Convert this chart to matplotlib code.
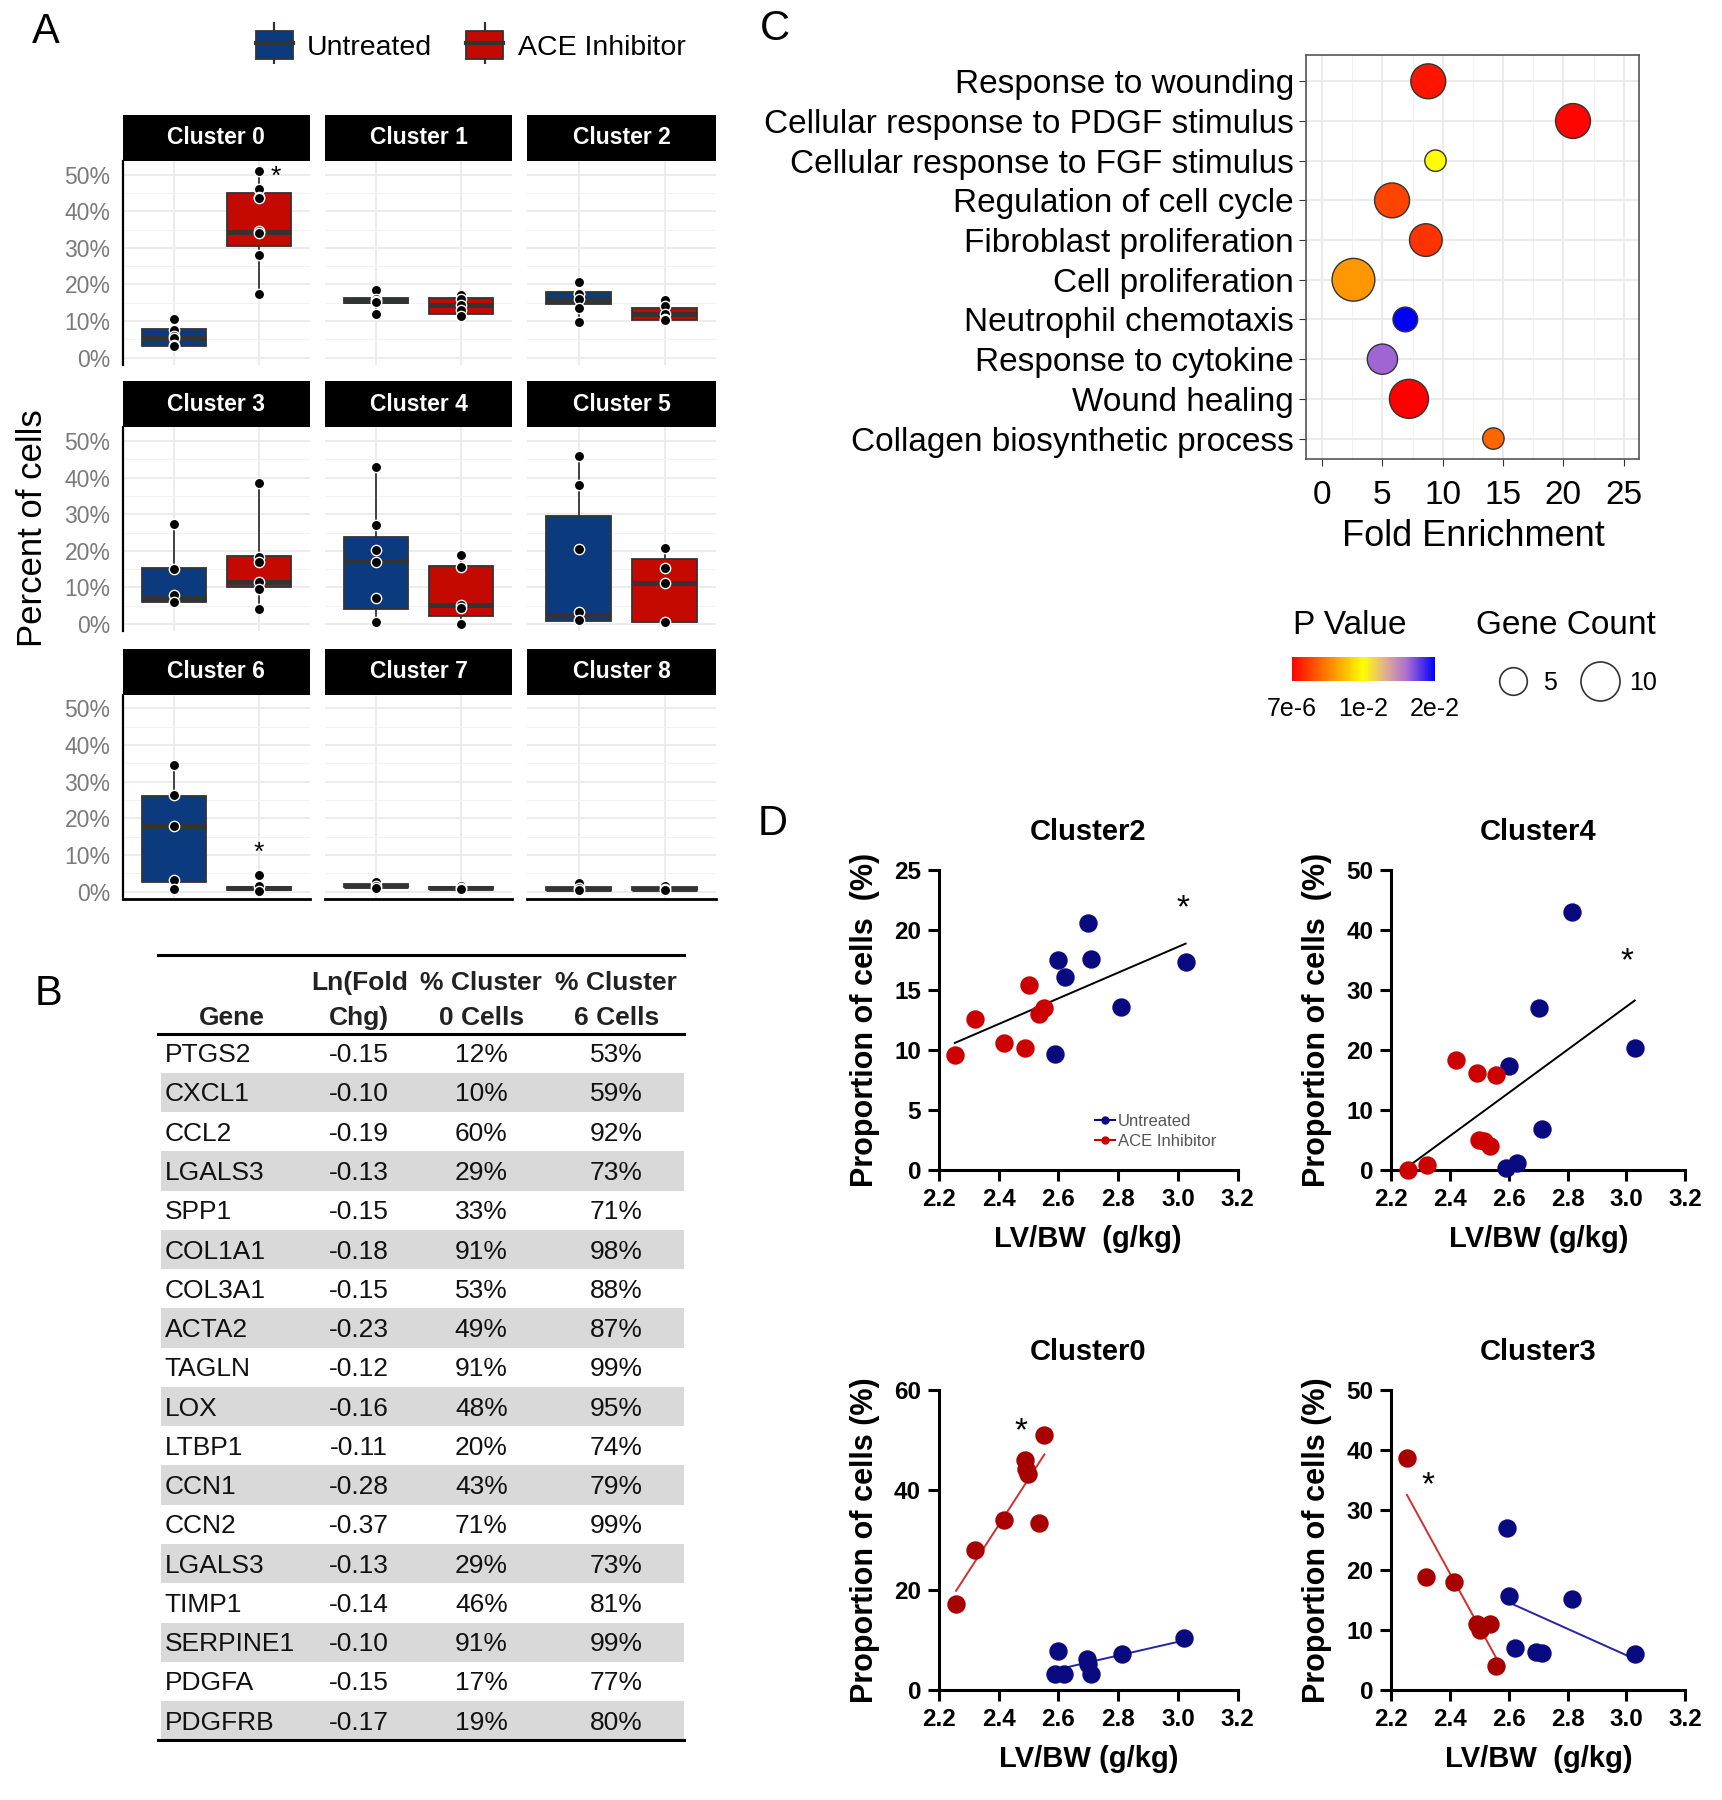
import numpy as np
import matplotlib
matplotlib.use("Agg")
import matplotlib.pyplot as plt
from matplotlib.patches import Rectangle, Patch
from matplotlib.lines import Line2D
from matplotlib.colors import LinearSegmentedColormap, Normalize
from matplotlib.cm import ScalarMappable
from matplotlib.legend_handler import HandlerTuple

plt.rcParams['font.family'] = ['Liberation Sans', 'DejaVu Sans']

# ---------------- panel A: box plots per cluster ----------------
clusters = ["Cluster 0", "Cluster 1", "Cluster 2", "Cluster 3", "Cluster 4",
            "Cluster 5", "Cluster 6", "Cluster 7", "Cluster 8"]
groups = ["Untreated", "ACE Inhibitor"]

# whisker low, q1, median, q3, whisker high (percent)
untr_lo = [2.9, 12.0, 9.7, 5.9, 0.5, 0.6, 0.6, 0.9, 0.4]
untr_q1 = [3.2, 15.0, 14.7, 6.1, 4.1, 0.8, 2.6, 1.2, 0.5]
untr_med = [5.5, 15.6, 15.9, 7.0, 17.3, 2.5, 17.8, 1.6, 0.8]
untr_q3 = [7.9, 16.3, 17.9, 15.2, 23.8, 29.5, 26.1, 2.0, 1.1]
untr_hi = [10.6, 18.5, 20.6, 27.3, 42.9, 46.0, 34.5, 2.5, 2.4]

ace_lo = [17.3, 11.3, 10.4, 4.1, 0.0, 0.2, 0.2, 0.6, 0.4]
ace_q1 = [30.5, 12.0, 10.4, 10.2, 2.2, 0.5, 0.5, 0.7, 0.5]
ace_med = [34.3, 14.5, 12.0, 11.5, 5.2, 11.1, 1.0, 1.0, 0.8]
ace_q3 = [45.0, 16.3, 13.6, 18.5, 15.8, 17.7, 1.3, 1.2, 1.1]
ace_hi = [51.1, 17.0, 15.9, 38.6, 18.8, 20.9, 1.6, 1.4, 1.5]

untr_points = [[10.6, 7.7, 6.0, 5.5, 3.6, 3.3],
               [18.5, 16.0, 15.6, 15.3, 12.0],
               [20.6, 17.6, 17.5, 16.1, 13.6, 9.7],
               [27.3, 14.9, 7.9, 6.0],
               [42.9, 27.0, 20.2, 17.0, 7.0, 0.5],
               [46.0, 37.9, 20.5, 3.4, 1.1],
               [34.5, 26.4, 17.8, 3.2, 0.6],
               [2.5, 1.6, 1.0],
               [2.4, 0.9, 0.5]]
ace_points = [[51.1, 46.0, 44.0, 43.5, 34.5, 34.0, 28.0, 17.3],
              [17.0, 16.0, 14.5, 13.0, 11.3],
              [15.9, 14.0, 12.0, 10.6, 10.3],
              [38.6, 18.4, 17.0, 11.5, 9.7, 4.1],
              [18.8, 15.6, 5.2, 4.3, 0.0],
              [20.9, 15.2, 11.1, 0.5],
              [4.6, 1.6, 0.1],
              [1.4, 1.0, 0.7],
              [1.5, 0.8, 0.5]]
a_star_cluster = [0, 6]
a_star_y = [49.5, 10.5]
a_star_x = [2.2, 2.0]

# ---------------- panel B: table ----------------
genes = ["PTGS2", "CXCL1", "CCL2", "LGALS3", "SPP1", "COL1A1", "COL3A1", "ACTA2",
         "TAGLN", "LOX", "LTBP1", "CCN1", "CCN2", "LGALS3", "TIMP1", "SERPINE1",
         "PDGFA", "PDGFRB"]
ln_fc = ["-0.15", "-0.10", "-0.19", "-0.13", "-0.15", "-0.18", "-0.15", "-0.23",
         "-0.12", "-0.16", "-0.11", "-0.28", "-0.37", "-0.13", "-0.14", "-0.10",
         "-0.15", "-0.17"]
pct_c0 = ["12%", "10%", "60%", "29%", "33%", "91%", "53%", "49%", "91%", "48%",
          "20%", "43%", "71%", "29%", "46%", "91%", "17%", "19%"]
pct_c6 = ["53%", "59%", "92%", "73%", "71%", "98%", "88%", "87%", "99%", "95%",
          "74%", "79%", "99%", "73%", "81%", "99%", "77%", "80%"]
headers = ["Gene", "Ln(Fold\nChg)", "% Cluster\n0 Cells", "% Cluster\n6 Cells"]

# ---------------- panel C: enrichment ----------------
terms = ["Response to wounding", "Cellular response to PDGF stimulus",
         "Cellular response to FGF stimulus", "Regulation of cell cycle",
         "Fibroblast proliferation", "Cell proliferation", "Neutrophil chemotaxis",
         "Response to cytokine", "Wound healing", "Collagen biosynthetic process"]
fold_enrich = [8.8, 20.8, 9.4, 5.8, 8.6, 2.6, 6.9, 5.0, 7.2, 14.2]
gene_count = [8, 8, 3, 8, 7, 12, 4, 6, 10, 3]
p_value = [8e-4, 2e-4, 1e-2, 2.7e-3, 2e-3, 6e-3, 2e-2, 1.64e-2, 7e-6, 4e-3]

# ---------------- panel D: correlations ----------------
c2_untr_x = [2.590, 2.598, 2.623, 2.700, 2.709, 2.811, 3.026]
c2_untr_y = [9.7, 17.5, 16.1, 20.6, 17.6, 13.6, 17.3]
c2_ace_x = [2.253, 2.320, 2.418, 2.487, 2.501, 2.534, 2.553]
c2_ace_y = [9.6, 12.6, 10.6, 10.2, 15.4, 13.0, 13.5]

c4_untr_x = [2.590, 2.600, 2.626, 2.701, 2.712, 2.814, 3.028]
c4_untr_y = [0.3, 17.3, 1.1, 27.0, 6.8, 43.0, 20.3]
c4_ace_x = [2.257, 2.320, 2.420, 2.490, 2.498, 2.514, 2.534, 2.556]
c4_ace_y = [0.0, 0.8, 18.4, 16.1, 5.0, 4.8, 4.0, 15.8]

c0_untr_x = [2.587, 2.600, 2.617, 2.694, 2.700, 2.710, 2.814, 3.020]
c0_untr_y = [3.1, 7.7, 3.1, 6.1, 5.2, 3.1, 7.2, 10.4]
c0_ace_x = [2.257, 2.320, 2.418, 2.487, 2.490, 2.498, 2.534, 2.553]
c0_ace_y = [17.1, 27.9, 34.1, 46.0, 44.3, 43.3, 33.4, 51.0]

c3_untr_x = [2.592, 2.600, 2.620, 2.692, 2.712, 2.814, 3.028]
c3_untr_y = [27.0, 15.6, 7.0, 6.3, 6.1, 15.1, 6.0]
c3_ace_x = [2.253, 2.317, 2.414, 2.490, 2.501, 2.537, 2.556]
c3_ace_y = [38.7, 18.9, 18.0, 10.9, 10.0, 11.0, 4.0]

# ---------------------------------------------------------------
W, H = 1500, 1568  # layout measured on the shrunk reference


def box(x0, y0, x1, y1):
    return [x0 / W, 1 - y1 / H, (x1 - x0) / W, (y1 - y0) / H]


def fpos(x, y):
    return x / W, 1 - y / H


fig = plt.figure(figsize=(17.22, 18.0), dpi=100)

BLUE_BOX = "#0B3A7E"
RED_BOX = "#C40A00"
EDGE = "#333333"

# panel letters
for lab, (x, y) in zip("ABCD", [(40, 28), (42, 866), (675, 25), (673, 718)]):
    fig.text(*fpos(x, y), lab, fontsize=30, ha='center', va='center')

# ---- panel A
col_x = [(107, 270), (283, 446), (459, 624)]
row_y = [(140, 318), (372, 550), (605, 783)]
strip_h = 40
for k, name in enumerate(clusters):
    r, c = divmod(k, 3)
    x0, x1 = col_x[c]
    y0, y1 = row_y[r]
    ax = fig.add_axes(box(x0, y0, x1, y1))
    stats = [
        dict(whislo=untr_lo[k], q1=untr_q1[k], med=untr_med[k], q3=untr_q3[k], whishi=untr_hi[k]),
        dict(whislo=ace_lo[k], q1=ace_q1[k], med=ace_med[k], q3=ace_q3[k], whishi=ace_hi[k]),
    ]
    bp = ax.bxp(stats, positions=[1, 2], widths=0.75, patch_artist=True,
                showfliers=False, showcaps=False,
                boxprops=dict(edgecolor=EDGE, linewidth=1.3),
                medianprops=dict(color=EDGE, linewidth=3.5),
                whiskerprops=dict(color=EDGE, linewidth=1.3))
    bp['boxes'][0].set_facecolor(BLUE_BOX)
    bp['boxes'][1].set_facecolor(RED_BOX)
    for pos, pts in [(1, untr_points[k]), (2, ace_points[k])]:
        ax.scatter([pos] * len(pts), pts, s=55, color='black', edgecolors='white',
                   linewidths=1.0, zorder=4)
    for ci, sy, sx in zip(a_star_cluster, a_star_y, a_star_x):
        if ci == k:
            ax.text(sx, sy, "*", fontsize=19, ha='center', va='center')
    ax.set_xlim(0.4, 2.6)
    ax.set_ylim(-2.0, 53.8)
    ax.set_xticks([1, 2])
    ax.set_xticklabels([])
    ax.set_yticks(range(0, 51, 10))
    ax.set_yticks(range(5, 50, 10), minor=True)
    if c == 0:
        ax.set_yticklabels([f"{v}%" for v in range(0, 51, 10)], fontsize=16.5, color='#7A7A7A')
    else:
        ax.set_yticklabels([])
    ax.tick_params(which='both', length=0, pad=9)
    ax.grid(True, which='major', color='#EBEBEB', linewidth=1.3)
    ax.grid(True, which='minor', axis='y', color='#F2F2F2', linewidth=0.8)
    ax.set_axisbelow(True)
    for s in ax.spines.values():
        s.set_visible(False)
    if c == 0:
        ax.spines['left'].set_visible(True)
        ax.spines['left'].set_linewidth(1.6)
    if r == 2:
        ax.spines['bottom'].set_visible(True)
        ax.spines['bottom'].set_linewidth(2.0)
    hh = strip_h / (y1 - y0)
    ax.add_patch(Rectangle((0, 1), 1, hh, transform=ax.transAxes, facecolor='black',
                           edgecolor='none', clip_on=False))
    ax.text(0.5, 1 + hh / 2, name, transform=ax.transAxes, ha='center', va='center',
            color='white', fontsize=16.5, fontweight='bold')

fig.text(*fpos(28, 460), "Percent of cells", rotation=90, fontsize=25, ha='center', va='center')
leg_handles = []
for fc in [BLUE_BOX, RED_BOX]:
    leg_handles.append((Line2D([], [], ls='', marker='|', markersize=30, markeredgewidth=1.6, color=EDGE),
                        Patch(facecolor=fc, edgecolor=EDGE, linewidth=1.3),
                        Line2D([], [], color=EDGE, lw=3)))
fig.legend(handles=leg_handles, labels=groups, loc='center', bbox_to_anchor=fpos(410, 40), ncol=2,
           frameon=False, fontsize=20.5, handlelength=1.3, handleheight=1.1, handletextpad=0.5,
           columnspacing=1.2, handler_map={tuple: HandlerTuple(ndivide=1)})

# ---- panel B
axb = fig.add_axes(box(138, 832, 596, 1516))
n = len(genes)
axb.set_xlim(0, 1)
axb.set_ylim(n + 2, 0)
axb.axis('off')
for i in range(n):
    if i % 2 == 1:
        axb.add_patch(Rectangle((0.005, 2 + i), 0.995, 1, facecolor='#D9D9D9', edgecolor='none'))
col_cx = [0.14, 0.382, 0.614, 0.871]
for cx, htxt in zip(col_cx, headers):
    lines = htxt.split("\n")
    if len(lines) == 1:
        lines = ["", lines[0]]
    axb.text(cx, 0.7, lines[0], ha='center', va='center', fontsize=19, fontweight='bold', color='#222222')
    axb.text(cx, 1.6, lines[1], ha='center', va='center', fontsize=19, fontweight='bold', color='#222222')
for i in range(n):
    yc = 2 + i + 0.55
    axb.text(0.012, yc, genes[i], ha='left', va='center', fontsize=19, color='#111111')
    axb.text(col_cx[1], yc, ln_fc[i], ha='center', va='center', fontsize=19, color='#111111')
    axb.text(col_cx[2], yc, pct_c0[i], ha='center', va='center', fontsize=19, color='#111111')
    axb.text(col_cx[3], yc, pct_c6[i], ha='center', va='center', fontsize=19, color='#111111')
for yl in [0, 2, n + 2]:
    axb.plot([0, 1], [yl, yl], color='black', lw=2.2, clip_on=False)

# ---- panel C
pcmap = LinearSegmentedColormap.from_list(
    "pval", [(0.0, "#FF0000"), (0.5, "#FFFF00"), (0.65, "#E2B090"),
             (0.8, "#B070D0"), (1.0, "#0000FF")])
pnorm = Normalize(vmin=7e-6, vmax=2e-2)
axc = fig.add_axes(box(1138, 48, 1428, 400))
ypos = np.arange(len(terms))[::-1] + 1
axc.scatter(fold_enrich, ypos, s=np.array(gene_count) * 79, c=p_value, cmap=pcmap, norm=pnorm,
            edgecolors='#333333', linewidths=1.0, zorder=3)
axc.set_xlim(-1.3, 26.3)
axc.set_ylim(0.48, 10.66)
axc.set_yticks(ypos)
axc.set_yticklabels(terms, fontsize=24)
axc.set_xticks(range(0, 26, 5))
axc.set_xticks(np.arange(2.5, 25, 5), minor=True)
axc.tick_params(axis='x', which='major', labelsize=24, length=5, color='#333333', pad=10)
axc.tick_params(axis='x', which='minor', length=0)
axc.tick_params(axis='y', length=5, color='#333333', pad=4)
axc.grid(True, which='major', color='#EBEBEB', linewidth=1.5)
axc.grid(True, which='minor', axis='x', color='#F2F2F2', linewidth=0.8)
axc.set_axisbelow(True)
for s in axc.spines.values():
    s.set_color('#555555')
    s.set_linewidth(1.2)
axc.set_xlabel("Fold Enrichment", fontsize=26, labelpad=6)

cax = fig.add_axes(box(1125, 572, 1250, 593))
cb = fig.colorbar(ScalarMappable(norm=pnorm, cmap=pcmap), cax=cax, orientation='horizontal')
cb.set_ticks([7e-6, 1e-2, 2e-2])
cb.set_ticklabels(["7e-6", "1e-2", "2e-2"])
cb.outline.set_visible(False)
cax.tick_params(length=0, labelsize=18, pad=12)
fig.text(*fpos(1176, 545), "P Value", fontsize=24, ha='center', va='center')

fig.text(*fpos(1364, 545), "Gene Count", fontsize=24, ha='center', va='center')
lax = fig.add_axes(box(1290, 570, 1450, 620))
lax.axis('off')
size_keys = [5, 10]
size_handles = [Line2D([], [], ls='', marker='o', markersize=np.sqrt(79 * g),
                       markerfacecolor='white', markeredgecolor='#333333', markeredgewidth=1.2)
                for g in size_keys]
lax.legend(size_handles, [str(g) for g in size_keys], ncol=2, fontsize=18, frameon=False,
           loc='center', handletextpad=0.2, columnspacing=0.7, borderpad=0, borderaxespad=0)

# ---- panel D
D_BLUE = "#0A0A80"
D_RED_TOP = "#CC0000"
D_RED_BOT = "#A80000"


def corr_plot(rect, title, ux, uy, rx, ry, ymax, ystep, pooled, red, star, ylab, xlab, legend=False):
    ax = fig.add_axes(box(*rect))
    ax.scatter(ux, uy, s=150, color=D_BLUE, zorder=3, clip_on=False)
    ax.scatter(rx, ry, s=150, color=red, zorder=3, clip_on=False)
    if pooled:
        xs = np.array(ux + rx)
        ys = np.array(uy + ry)
        k, b = np.polyfit(xs, ys, 1)
        xl = np.array([xs.min(), xs.max()])
        ax.plot(xl, k * xl + b, color='black', lw=1.4, zorder=2)
    else:
        for xs, ys, col in [(np.array(ux), np.array(uy), "#2424A8"), (np.array(rx), np.array(ry), "#D03030")]:
            k, b = np.polyfit(xs, ys, 1)
            xl = np.array([xs.min(), xs.max()])
            ax.plot(xl, k * xl + b, color=col, lw=1.4, zorder=2)
    ax.text(star[0], star[1], "*", fontsize=24, ha='center', va='center')
    ax.set_xlim(2.2, 3.2)
    ax.set_ylim(0, ymax)
    ax.set_xticks(np.arange(2.2, 3.21, 0.2))
    ax.set_xticklabels([f"{v:.1f}" for v in np.arange(2.2, 3.21, 0.2)])
    ax.set_yticks(np.arange(0, ymax + 1, ystep))
    ax.tick_params(width=2.2, length=8, labelsize=17.5, pad=5)
    for lbl in ax.get_xticklabels() + ax.get_yticklabels():
        lbl.set_fontweight('bold')
    for s in ['top', 'right']:
        ax.spines[s].set_visible(False)
    for s in ['left', 'bottom']:
        ax.spines[s].set_linewidth(2.2)
    ax.set_title(title, fontsize=21, fontweight='bold', pad=22)
    ax.set_ylabel(ylab, fontsize=22, fontweight='bold', labelpad=10)
    ax.set_xlabel(xlab, fontsize=21, fontweight='bold', labelpad=10)
    if legend:
        hs = [Line2D([0], [0], color=D_BLUE, marker='o', ms=5, lw=1.5),
              Line2D([0], [0], color=red, marker='o', ms=5, lw=1.5)]
        ax.legend(hs, groups, loc='lower right', bbox_to_anchor=(0.98, 0.02), frameon=False,
                  fontsize=12, labelcolor='#555555', handlelength=1.2, handletextpad=0.2,
                  labelspacing=0.3)
    return ax


corr_plot((818, 758, 1078, 1019), "Cluster2", c2_untr_x, c2_untr_y, c2_ace_x, c2_ace_y,
          25, 5, True, D_RED_TOP, (3.017, 21.8), "Proportion of cells  (%)", "LV/BW  (g/kg)", legend=True)
corr_plot((1212, 758, 1468, 1019), "Cluster4", c4_untr_x, c4_untr_y, c4_ace_x, c4_ace_y,
          50, 10, True, D_RED_TOP, (3.0, 34.7), "Proportion of cells  (%)", "LV/BW (g/kg)")
corr_plot((818, 1211, 1078, 1472), "Cluster0", c0_untr_x, c0_untr_y, c0_ace_x, c0_ace_y,
          60, 20, False, D_RED_BOT, (2.473, 51.6), "Proportion of cells (%)", "LV/BW (g/kg)")
corr_plot((1212, 1211, 1468, 1472), "Cluster3", c3_untr_x, c3_untr_y, c3_ace_x, c3_ace_y,
          50, 10, False, D_RED_BOT, (2.326, 34.1), "Proportion of cells (%)", "LV/BW  (g/kg)")

fig.savefig("out.png", dpi=100)
